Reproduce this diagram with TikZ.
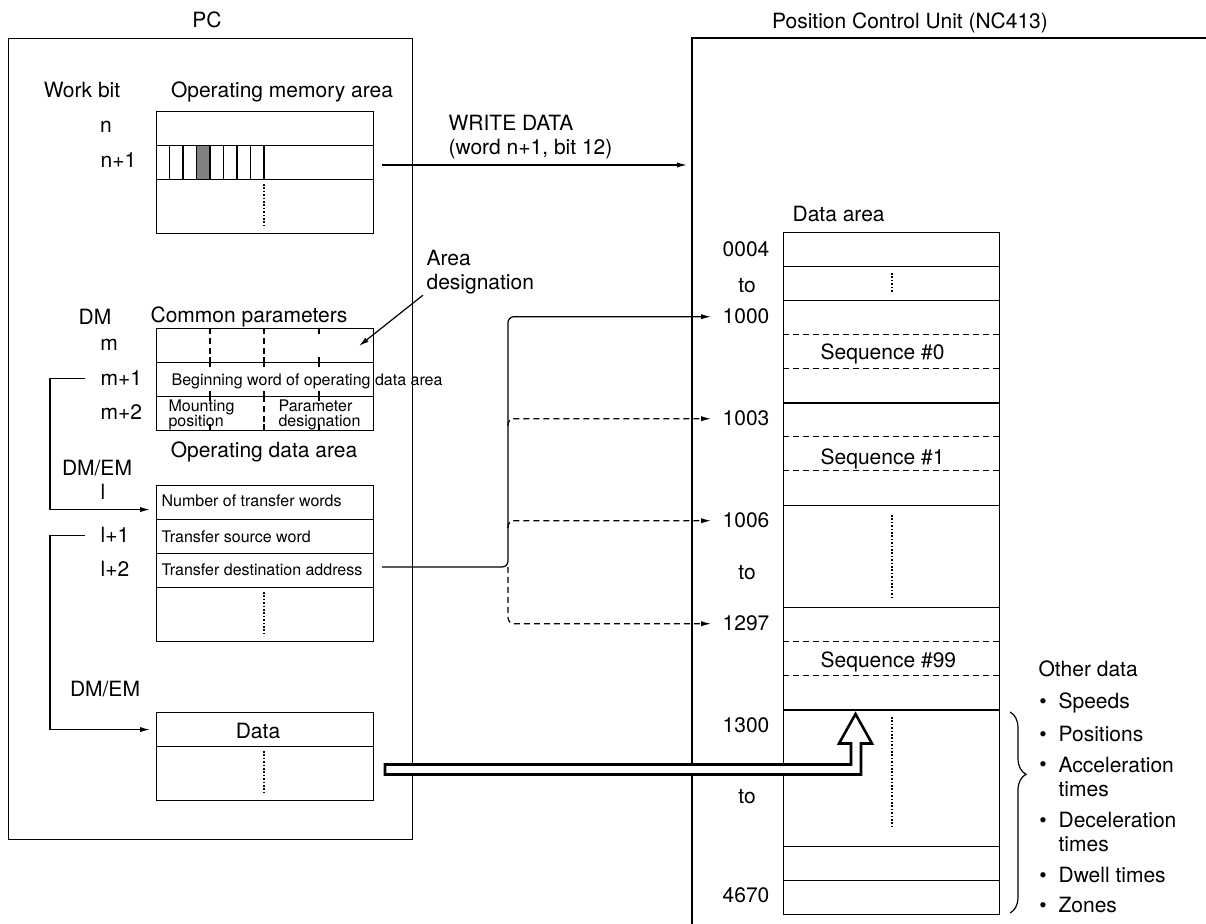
\documentclass[tikz,border=0pt]{standalone}
\usepackage{fontspec}
\setmainfont{TeX Gyre Heros}
\usetikzlibrary{arrows.meta, decorations.pathreplacing}

\tikzset{
  lbl/.style={font=\fontsize{10.5}{12}\selectfont, inner sep=0pt, align=left},
  lblsm/.style={font=\fontsize{8}{7.5}\selectfont, inner sep=0pt, align=left},
  memrow/.style={draw, anchor=north west, inner sep=0pt, minimum width=108.5pt, minimum height=17pt},
  datrow/.style={draw, anchor=north west, inner sep=0pt, minimum width=108pt, minimum height=17.05pt},
  dashln/.style={dash pattern=on 3pt off 2pt},
  dotln/.style={line width=0.8pt, dash pattern=on 0.8pt off 0.9pt},
  hollow/.style={draw, fill=white, line width=1.3pt},
}

\begin{document}
\begin{tikzpicture}[x=0.5pt, y=-0.5pt, line width=0.6pt, >={Latex[length=5pt,width=2.6pt]}]
    \useasboundingbox (0,0) rectangle (1206,924);

        % PC TARAFI
        \node[lbl, anchor=base] (pc_title) at (207,28) {PC};
        \node[draw, anchor=north west, inner sep=0pt, minimum width=202pt, minimum height=400.5pt] (pc_box) at (8,38) {};

        % Operating memory area
        \node[lbl, anchor=base] (work_bit) at (82,98) {Work bit};
        \node[lbl, anchor=base] (om_title) at (282,98) {Operating memory area};
        \fill[gray] (196.5,145) rectangle (210,179);
        \node[memrow] (om_n) at (156,111) {};
        \node[memrow] (om_n1) at (156,145) {};
        \node[memrow, minimum height=27pt] (om_rest) at (156,179) {};
        \foreach \i in {1,...,8} \draw (156+13.5*\i,145) -- (156+13.5*\i,179);
        \draw[dotln] (264,184) -- (264,226);
        \node[lbl, anchor=base] (lbl_n) at (106,133) {n};
        \node[lbl, anchor=base west] (lbl_n1) at (100,168) {n+1};

        % Common parameters
        \node[lbl, anchor=base] (lbl_dm) at (95,325) {DM};
        \node[lbl, anchor=base] (cp_title) at (249,323) {Common parameters};
        \node[memrow] (cp_m) at (156,328) {};
        \node[memrow] (cp_m1) at (156,362) {};
        \node[memrow] (cp_m2) at (156,396) {};
        \foreach \x in {210,264} \draw[dashln] (\x,328) -- (\x,362);
        \draw[dashln] (264,396) -- (264,430);
        \draw (319,328) -- (319,334);
        \foreach \x in {210,264,319} {
            \draw (\x,357) -- (\x,367);
            \draw (\x,391) -- (\x,401);
            \draw (\x,424) -- (\x,430);
        }
        \node[lblsm, anchor=base west] (cp_begin) at (171,386) {Beginning word of operating data area};
        \node[lblsm, anchor=base west] (cp_mount) at (168,427) {Mounting\\position};
        \node[lblsm, anchor=base west] (cp_param) at (278,427) {Parameter\\designation};
        \node[lbl, anchor=base] (lbl_m) at (109,351) {m};
        \node[lbl, anchor=base west] (lbl_m1) at (100,386) {m+1};
        \node[lbl, anchor=base west] (lbl_m2) at (100,420) {m+2};

        \node[lbl, anchor=base west] (area_des) at (426,290) {Area\\designation};
        \coordinate (area_tip) at (359,346);
        \draw[->] ([xshift=-1.5pt]area_des.south west) -- (area_tip);

        % Operating data area
        \node[lbl, anchor=base] (od_title) at (264,458) {Operating data area};
        \node[lbl, anchor=base] (lbl_dmem1) at (97,476) {DM/EM};
        \node[memrow] (od_l) at (156,485) {};
        \node[memrow] (od_l1) at (156,519) {};
        \node[memrow] (od_l2) at (156,553) {};
        \node[memrow, minimum height=27pt] (od_rest) at (156,587) {};
        \draw[dotln] (264,592) -- (264,634);
        \node[lblsm, anchor=base west] (od_words) at (161,507) {Number of transfer words};
        \node[lblsm, anchor=base west] (od_src) at (161,543) {Transfer source word};
        \node[lblsm, anchor=base west] (od_dst) at (161,576) {Transfer destination address};
        \node[lbl, anchor=base] (lbl_l) at (103,500) {l};
        \node[lbl, anchor=base west] (lbl_l1) at (100,543) {l+1};
        \node[lbl, anchor=base west] (lbl_l2) at (100,577) {l+2};

        % Data
        \node[lbl, anchor=base] (lbl_dmem2) at (105,697) {DM/EM};
        \node[memrow] (dt_head) at (156,712) {};
        \node[memrow, minimum height=27pt] (dt_rest) at (156,746) {};
        \node[lbl, anchor=base] (dt_text) at (258,739) {Data};
        \draw[dotln] (264,751) -- (264,793);

        % Adres okları
        \draw[->, shorten >=3pt] ([xshift=-7.5pt]lbl_m1.west) -- ++(-35,0) |- ([yshift=-3.5pt]od_l.west);
        \draw[->, shorten >=3pt] ([xshift=-7.5pt]lbl_l1.west) -- ++(-35,0) |- (dt_head.west);

        % WRITE DATA
        \coordinate (wd_src) at (382,165);
        \coordinate (wd_dst) at (687,165);
        \draw[->] (wd_src) -- (wd_dst);
        \node[lbl, anchor=base west] (wd_text) at (448,155) {WRITE DATA\\(word n+1, bit 12)};

        % POSITION CONTROL UNIT
        \node[lbl, anchor=base] (pcu_title) at (910,29) {Position Control Unit (NC413)};
        \draw (1212,38) -- (692,38) -- (692,930);
        \node[lbl, anchor=base west] (da_title) at (792,222) {Data area};

        \node[datrow] (da_r0) at (783,232) {};
        \node[datrow] (da_r1) at (783,266.1) {};
        \node[datrow, minimum height=51.15pt] (seq_0) at (783,300.2) {};
        \node[datrow, minimum height=51.15pt] (seq_1) at (783,402.5) {};
        \node[datrow, minimum height=51.15pt] (seq_gap) at (783,504.8) {};
        \node[datrow, minimum height=51.15pt] (seq_99) at (783,607.1) {};
        \node[datrow, minimum height=68.2pt] (other) at (783,709.4) {};
        \node[datrow] (da_r2) at (783,845.8) {};
        \node[datrow] (da_r3) at (783,879.9) {};
        \foreach \y in {334.3,368.4,436.6,470.7,641.2,675.3}
            \draw[dashln] (783,\y) -- (999,\y);
        \draw[dotln] (892,273) -- (892,293);
        \draw[dotln] (892,515) -- (892,597);
        \draw[dotln] (892,717) -- (892,827);
        \node[lbl, anchor=base west] (seq_0_txt) at (820,360) {Sequence \#0};
        \node[lbl, anchor=base west] (seq_1_txt) at (820,465) {Sequence \#1};
        \node[lbl, anchor=base west] (seq_99_txt) at (820,668) {Sequence \#99};

        \node[lbl, anchor=base east] (a0004) at (770,257) {0004};
        \node[lbl, anchor=base] (ato1) at (747,293) {to};
        \node[lbl, anchor=base east] (a1000) at (770,324) {1000};
        \node[lbl, anchor=base east] (a1003) at (770,426) {1003};
        \node[lbl, anchor=base east] (a1006) at (770,528) {1006};
        \node[lbl, anchor=base] (ato2) at (747,580) {to};
        \node[lbl, anchor=base east] (a1297) at (770,631) {1297};
        \node[lbl, anchor=base east] (a1300) at (770,733) {1300};
        \node[lbl, anchor=base] (ato3) at (747,804) {to};
        \node[lbl, anchor=base east] (a4670) at (770,903) {4670};

        % Transfer destination bus
        \coordinate (tda_src) at (382,567);
        \coordinate (bus) at (508,567);
        \coordinate (bus_b1) at (508,426);
        \coordinate (bus_b2) at (508,528);
        \draw[->, rounded corners=3pt, shorten >=5.5pt] (tda_src) -- (bus) |- (a1000.west);
        \draw[->, dashln, rounded corners=3pt, shorten >=5.5pt] (bus_b1) |- (a1003.west);
        \draw[->, dashln, rounded corners=3pt, shorten >=5.5pt] (bus_b2) |- (a1006.west);
        \draw[->, dashln, rounded corners=3pt, shorten >=5.5pt] (bus) |- (a1297.west);

        % Other data
        \draw[decorate, decoration={brace, amplitude=8pt, aspect=0.31}] (1010,712) -- (1010,913);
        \node[lbl, anchor=base west] (other_title) at (1038,677) {Other data};
        \foreach \y/\yt/\txt [count=\k] in {709/709/Speeds, 742/742/Positions, 772/797/{Acceleration\\times}, 828/852/{Deceleration\\times}, 883/883/Dwell times, 913/913/Zones} {
            \node[lbl, anchor=base] (bul_\k) at (1043,\y) {\textbullet};
            \node[lbl, anchor=base west] (item_\k) at (1058,\yt) {\txt};
        }

        % Büyük içi boş ok
        \draw[hollow] (385,764.5) -- (851,764.5) -- (851,743.5) -- (839,743.5) -- (855.5,714) -- (872,743.5) -- (861,743.5) -- (861,774.5) -- (385,774.5) -- cycle;
\end{tikzpicture}
\end{document}
